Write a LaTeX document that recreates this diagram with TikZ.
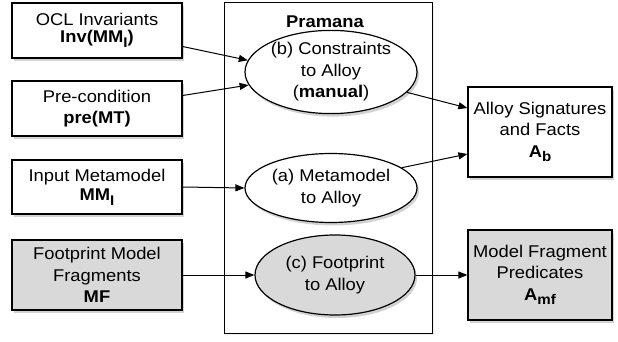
\documentclass[tikz,border=0pt]{standalone}
\usepackage{fontspec}
\setmainfont{Liberation Sans}[FakeStretch=1.08]
\usetikzlibrary{positioning,shadows,arrows.meta,shapes.geometric}
\definecolor{fragGray}{gray}{0.85}
\newcommand{\lowsub}[1]{\raisebox{-4.5pt}{\fontsize{14}{14}\selectfont #1}}

\tikzset{
    softshadow/.style={drop shadow={opacity=0.35,shadow xshift=2pt,shadow yshift=-3pt}},
    txt/.style={font=\fontsize{17}{21.5}\selectfont,align=center,inner sep=1pt},
    artefact/.style={txt,draw,line width=1.2pt,fill=white,softshadow},
    transfo/.style={txt,draw,ellipse,line width=1.2pt,fill=white,softshadow,inner sep=0pt},
    flow/.style={line width=1pt,-{Triangle[length=9pt,width=7pt]}}
}

\begin{document}
\begin{tikzpicture}[x=1pt,y=-1pt]
    \useasboundingbox (0,0) rectangle (618,342);

    % tool frame
    \node[draw,line width=1pt,fill=white,minimum width=208pt,minimum height=330pt,
          drop shadow={opacity=0.15,shadow xshift=2pt,shadow yshift=-2pt}] (pramana) at (328,168) {};
    \node[txt,font=\fontsize{17}{21.5}\selectfont\bfseries] (pramanalbl) at (325,22) {Pramana};

    % inputs
    \node[artefact,minimum width=170pt,minimum height=55pt] (ocl) at (97,30.5)
        {OCL Invariants\\[-4.5pt]\textbf{Inv(MM\lowsub{I})}};
    \node[artefact,minimum width=170pt,minimum height=55pt] (pre) at (97,108.5)
        {Pre-condition\\\textbf{pre(MT)}};
    \node[artefact,minimum width=170pt,minimum height=54pt] (inmm) at (97,187)
        {Input Metamodel\\[-2pt]\textbf{MM\lowsub{I}}};
    \node[artefact,fill=fragGray,minimum width=170pt,minimum height=70pt] (fpm) at (97,275)
        {Footprint Model\\Fragments\\\textbf{MF}};

    % transformations
    \node[transfo,minimum width=172pt,minimum height=79pt] (constr) at (331,72)
        {(b) Constraints\\to Alloy\\(\textbf{manual})};
    \node[transfo,minimum width=172pt,minimum height=69pt] (mmalloy) at (331,188)
        {(a) Metamodel\\to Alloy};
    \node[transfo,fill=fragGray,minimum width=160pt,minimum height=80pt] (fpalloy) at (335,275)
        {(c) Footprint\\to Alloy};

    % outputs
    \node[artefact,minimum width=144pt,minimum height=90pt] (sigs) at (540,132)
        {Alloy Signatures\\and Facts\\\textbf{A\lowsub{b}}};
    \node[artefact,fill=fragGray,minimum width=144pt,minimum height=90pt] (preds) at (540,275)
        {Model Fragment\\Predicates\\\textbf{A\lowsub{mf}}};

    % connectors
    \draw[flow] ([yshift=-16pt]ocl.east) -- (constr.172);
    \draw[flow] ([yshift=13pt]pre.east) -- (constr.189);
    \draw[flow] (inmm.east) -- (mmalloy.west);
    \draw[flow] (fpm.east) -- (fpalloy.west);
    \draw[flow] (constr.345) -- ([yshift=24pt]sigs.west);
    \draw[flow] (mmalloy.16) -- ([yshift=-22pt]sigs.west);
    \draw[flow] (fpalloy.east) -- (preds.west);
\end{tikzpicture}
\end{document}
